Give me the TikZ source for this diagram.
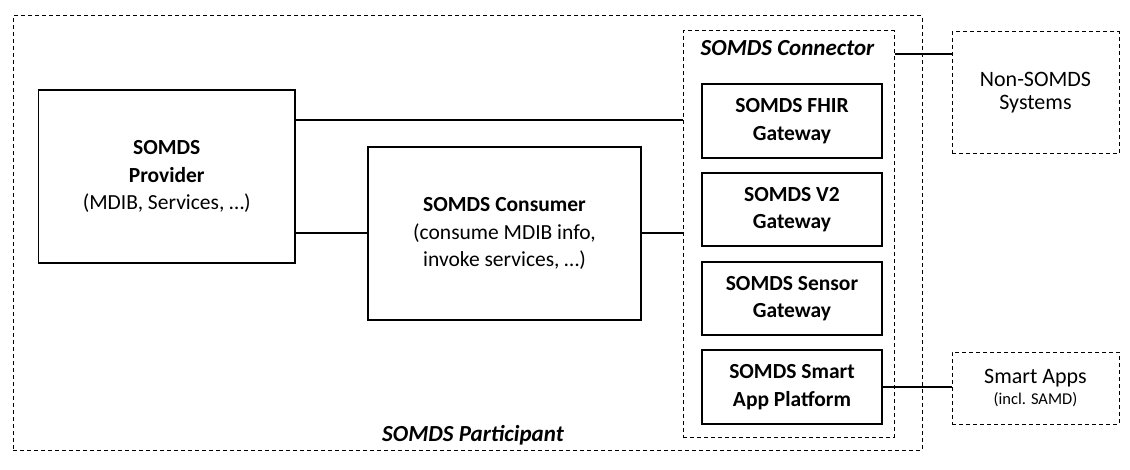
\documentclass[tikz,border=0pt]{standalone}
\usepackage{fontspec}
\setmainfont{Carlito}
\begin{document}
\begin{tikzpicture}[x=1pt,y=-1pt,
  solidbox/.style={draw,line width=1.3pt,inner sep=0pt,align=center,font=\fontsize{21.5}{27.5}\selectfont},
  dashbox/.style={draw,line width=1pt,dash pattern=on 4pt off 3pt,inner sep=0pt,align=center,font=\fontsize{22}{23}\selectfont},
  link/.style={line width=2pt},
  lbl/.style={font=\fontsize{23}{28}\selectfont\bfseries\itshape,inner sep=0pt,anchor=base}]
\useasboundingbox (0,0) rectangle (1130,470);
\node[dashbox,minimum width=909pt,minimum height=434pt] (part) at (467.5,233) {};
\node[dashbox,minimum width=211pt,minimum height=406pt] (conn) at (788.5,234) {};
\node[lbl] (partlbl) at (473,441) {SOMDS Participant};
\node[lbl] (connlbl) at (787.5,56) {SOMDS Connector};
\node[solidbox,minimum width=256.5pt,minimum height=173pt] (prov) at (166.75,176.5) {\textbf{SOMDS}\\\textbf{Provider}\\(MDIB, Services, …)};
\node[solidbox,minimum width=273pt,minimum height=173pt] (cons) at (504.5,233.5) {\textbf{SOMDS Consumer}\\(consume MDIB info,\\invoke services, …)};
\node[solidbox,minimum width=180pt,minimum height=74pt] (fhir) at (792,121) {\textbf{SOMDS FHIR}\\\textbf{Gateway}};
\node[solidbox,minimum width=180pt,minimum height=73pt] (vtwo) at (792,209.5) {\textbf{SOMDS V2}\\\textbf{Gateway}};
\node[solidbox,minimum width=180pt,minimum height=73pt] (sens) at (792,298.5) {\textbf{SOMDS Sensor}\\\textbf{Gateway}};
\node[solidbox,minimum width=180pt,minimum height=74pt] (smart) at (792,387) {\textbf{SOMDS Smart}\\\textbf{App Platform}};
\node[dashbox,minimum width=167pt,minimum height=122pt] (nons) at (1035.5,93) {Non-SOMDS\\Systems};
\node[dashbox,minimum width=167pt,minimum height=72pt,font=\fontsize{22}{21.5}\selectfont] (apps) at (1035.5,388) {Smart Apps\\{\fontsize{16.5}{20}\selectfont (incl. SAMD)}};
\coordinate (ya) at (0,120);
\coordinate (yb) at (0,54);
\draw[link] (prov.east |- ya) -- (conn.west |- ya);
\draw[link] (prov.east |- cons.west) -- (cons.west);
\draw[link] (cons.east) -- (conn.west |- cons.east);
\draw[link] (conn.east |- yb) -- (nons.west |- yb);
\draw[link] (smart.east) -- (apps.west |- smart.east);
\end{tikzpicture}
\end{document}
